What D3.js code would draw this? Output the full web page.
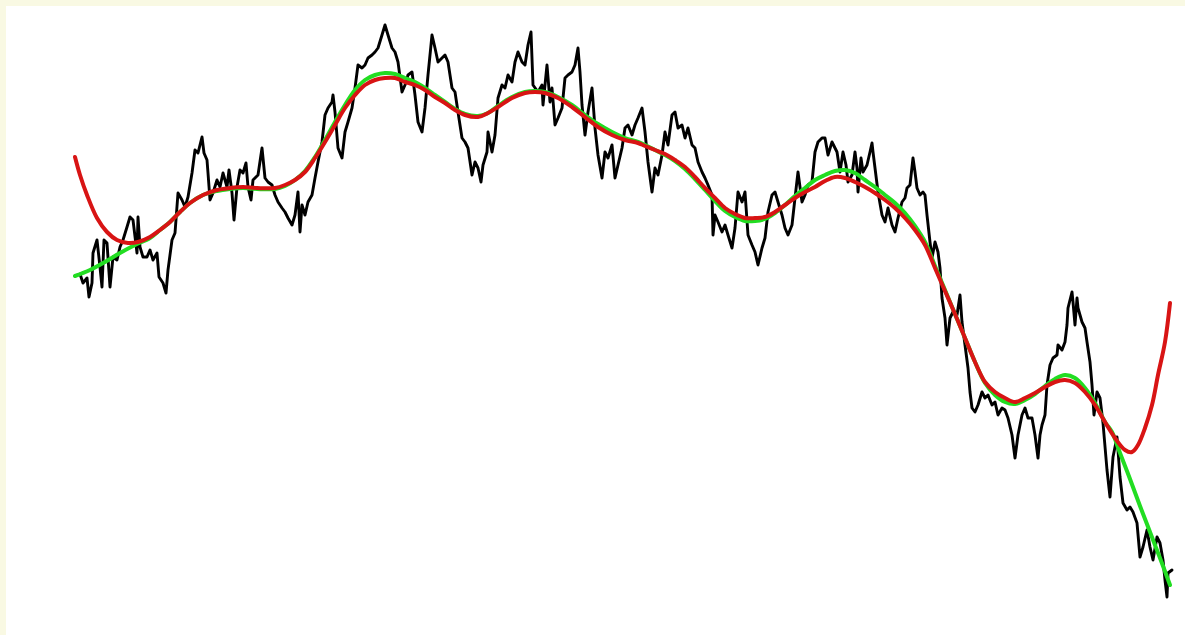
<!DOCTYPE html>
<html>
<head>
<meta charset="utf-8">
<script src="https://cdn.jsdelivr.net/npm/d3@7"></script>
<style>
  html, body { margin: 0; padding: 0; background: #f9f9e3; }
  svg { display: block; }
</style>
</head>
<body>
<svg id="chart" width="1185" height="635"></svg>
<script>
// Raw random-walk series: step number and level
const walkStep = [0,5,8,12,14,17,18,22,25,27,29,32,35,38,42,45,48,52,55,58,62,63,65,68,72,75,78,82,84,88,91,93,97,100,103,107,110,113,117,120,123,127,129,132,133,135,138,142,145,148,152,154,157,159,162,165,168,171,173,176,178,
  180,183,187,190,193,197,200,203,207,210,213,217,220,223,225,227,230,233,237,240,243,247,250,253,257,258,260,263,267,270,273,277,280,283,287,290,293,297,300,303,307,310,313,317,320,323,327,330,333,337,340,343,347,350,353,357,360,363,367,370,373,
  377,380,383,387,390,393,397,400,403,406,408,412,413,417,420,423,427,430,433,437,440,443,447,450,453,456,458,463,467,468,472,475,477,480,483,487,490,493,497,500,503,505,507,510,513,517,520,523,527,530,533,537,540,543,547,550,553,557,
  560,563,567,570,573,577,580,583,587,590,593,597,600,603,607,610,613,617,620,623,627,630,633,637,638,640,643,647,650,653,657,660,663,667,670,673,677,680,683,687,690,693,697,700,703,707,710,713,717,720,723,727,730,733,737,740,743,747,750,753,757,
  762,765,768,771,773,777,780,782,783,786,788,792,795,797,798,800,803,807,810,813,817,820,823,827,830,832,835,838,840,842,845,848,850,852,855,857,860,863,865,867,870,872,875,878,882,885,887,890,893,895,897,900,903,907,910,913,917,920,923,927,
  930,933,937,940,943,947,950,953,957,960,963,965,967,970,972,975,978,982,983,987,990,992,993,997,998,1000,1002,1003,1007,1010,1012,1015,1017,1019,1022,1025,1028,1032,1035,1038,1042,1045,1048,1052,1055,1058,1062,1065,1068,1072,1075,1078,1082,1085,1088,1090,1092,1093,1097];
const walkLevel = [364,366,357,362,343,357,387,400,373,353,400,397,353,383,380,393,400,413,423,420,387,423,393,383,383,390,380,387,363,357,347,370,400,407,447,440,433,443,467,490,487,503,487,480,467,440,447,460,453,467,453,470,447,420,453,470,467,477,453,440,460,
  462,465,492,462,458,455,445,438,432,428,422,415,425,448,408,435,425,438,445,462,478,498,525,532,538,545,528,492,482,508,518,532,552,575,572,575,582,585,588,592,605,615,605,592,588,578,548,555,565,568,545,518,508,532,565,605,592,578,582,585,578,
  552,548,528,502,498,492,465,478,472,458,475,488,508,488,505,542,555,552,565,558,578,588,578,575,595,608,555,548,555,535,575,538,552,515,522,532,562,565,568,575,592,568,535,505,528,552,512,485,462,488,482,495,462,475,492,512,515,505,
  515,522,532,508,478,448,472,465,485,508,495,525,528,512,515,502,512,495,492,478,468,462,455,445,405,425,418,408,415,405,392,412,448,438,448,405,395,388,375,392,402,428,445,448,438,425,412,405,415,442,468,438,445,455,458,488,498,502,502,485,498,
  488,468,488,475,458,465,488,472,448,482,468,475,488,497,488,472,448,425,418,432,415,408,422,438,442,452,455,482,468,452,445,448,445,425,398,382,398,388,372,342,322,295,322,328,325,345,318,295,272,248,232,228,235,248,242,245,235,238,225,232,
  230,222,205,182,205,225,232,222,222,205,182,205,215,225,255,275,282,285,295,290,298,315,332,348,338,315,342,332,318,312,298,278,255,225,248,242,217,170,143,183,203,163,137,130,133,128,117,83,93,110,93,80,103,97,80,60,43,67,70];

// Polynomial trend fitted over the whole walk
const polyStep = [0,5,12,22,32,42,53,63,75,85,95,105,115,128,142,155,168,182,200,210,220,230,240,250,260,270,280,290,300,310,320,330,340,350,360,370,380,390,403,413,423,437,450,460,470,483,497,510,523,537,550,563,570,580,590,600,610,620,630,640,650,660,670,680,690,700,710,720,730,740,750,760,770,780,790,800,810,820,830,840,850,860,870,880,890,900,910,920,930,940,950,960,970,980,990,1000,1010,1020,1030,1040,1050,1057,1063,1070,1077,1083,1090,1095];
const polyLevel = [483,465,445,422,408,400,397,398,403,410,418,428,437,445,450,452,453,452,452,455,460,468,482,498,515,532,545,555,560,562,562,558,555,550,543,537,530,525,523,527,533,542,547,548,547,542,533,523,513,505,500,497,494,490,486,480,473,463,452,442,432,426,422,422,423,428,435,442,448,453,459,463,462,458,453,447,440,432,422,410,395,372,349,326,302,278,258,248,242,238,242,247,253,258,260,257,248,235,218,202,190,188,195,212,235,265,298,337];

// Local smoother of the walk
const smoothStep = [0,15,30,45,60,75,85,95,105,115,128,142,155,168,182,200,210,220,230,240,250,260,270,280,290,300,310,320,330,340,350,360,370,380,390,403,413,423,437,450,460,470,483,497,510,523,537,550,563,570,580,590,600,610,620,630,640,650,660,670,680,690,700,710,720,730,740,750,760,770,780,790,800,810,820,830,840,850,860,870,880,890,900,910,920,930,940,950,960,970,980,990,1000,1010,1020,1030,1037,1045,1055,1065,1075,1085,1095];
const smoothLevel = [364,370,378,387,395,402,410,418,428,437,445,449,451,452,451,451,454,460,469,483,500,518,535,550,560,565,567,566,562,558,552,545,538,531,526,524,527,534,543,548,549,548,543,535,525,516,508,502,498,495,490,485,479,471,461,450,439,429,423,419,419,421,427,435,444,452,460,465,469,470,467,460,453,445,437,427,414,398,374,350,326,302,278,257,245,238,236,240,246,254,261,265,262,252,237,218,208,187,161,134,108,82,55];

const svg = d3.select("#chart");
const W = 1185, H = 635;

// cream frame with white plotting panel
svg.append("rect").attr("width", W).attr("height", H).attr("fill", "#f9f9e3");
svg.append("rect").attr("x", 6).attr("y", 6).attr("width", W - 6).attr("height", H - 6).attr("fill", "#ffffff");

const x = d3.scaleLinear().domain([0, 1097]).range([75, 1172]);
const y = d3.scaleLinear().domain([0, 640]).range([640, 0]);

const pts = (s, v) => s.map((d, i) => [d, v[i]]);

const rawLine = d3.line().x(d => x(d[0])).y(d => y(d[1])).curve(d3.curveLinear);
const smoothLine = d3.line().x(d => x(d[0])).y(d => y(d[1])).curve(d3.curveCatmullRom.alpha(0.5));

svg.append("path")
  .attr("d", rawLine(pts(walkStep, walkLevel)))
  .attr("fill", "none").attr("stroke", "#000").attr("stroke-width", 2.9)
  .attr("stroke-linejoin", "round").attr("stroke-linecap", "round");

svg.append("path")
  .attr("d", smoothLine(pts(smoothStep, smoothLevel)))
  .attr("fill", "none").attr("stroke", "#22dd22").attr("stroke-width", 4)
  .attr("stroke-linecap", "round");

svg.append("path")
  .attr("d", smoothLine(pts(polyStep, polyLevel)))
  .attr("fill", "none").attr("stroke", "#d81414").attr("stroke-width", 4)
  .attr("stroke-linecap", "round");
</script>
</body>
</html>
